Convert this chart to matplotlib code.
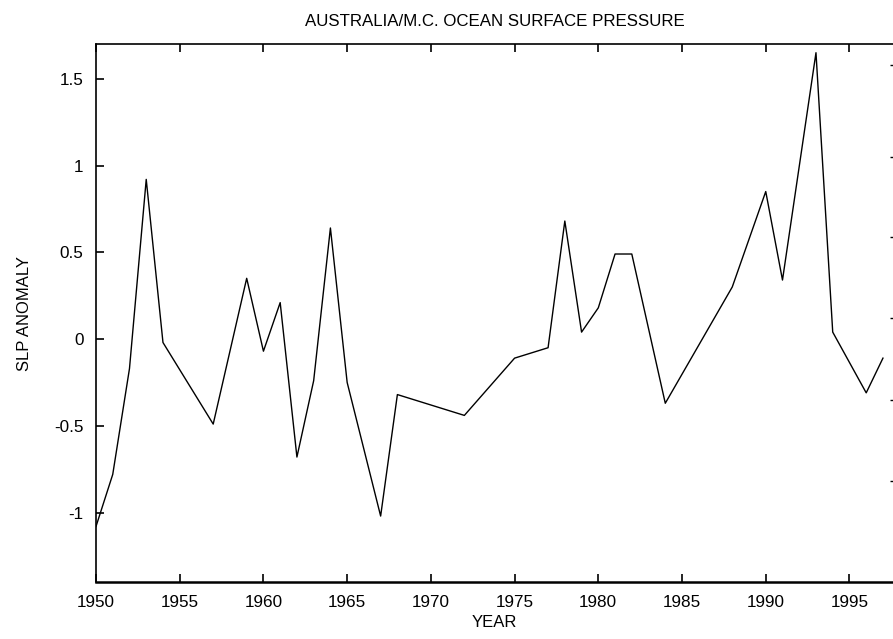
import matplotlib
matplotlib.use("Agg")
import matplotlib.pyplot as plt

plt.rcParams["font.family"] = ["Liberation Sans", "DejaVu Sans"]

# year / SLP anomaly vertices
years = [1950, 1951, 1952, 1953, 1954, 1957, 1959, 1960, 1961, 1962,
         1963, 1964, 1965, 1967, 1968, 1972, 1975, 1977, 1978, 1979,
         1980, 1981, 1982, 1984, 1988, 1990, 1991, 1993, 1994, 1996, 1997]
slp = [-1.08, -0.78, -0.17, 0.92, -0.02, -0.49, 0.35, -0.07, 0.21, -0.68,
       -0.24, 0.64, -0.25, -1.02, -0.32, -0.44, -0.11, -0.05, 0.68, 0.04,
       0.18, 0.49, 0.49, -0.37, 0.30, 0.85, 0.34, 1.65, 0.04, -0.31, -0.11]

xticks = [1950, 1955, 1960, 1965, 1970, 1975, 1980, 1985, 1990, 1995]
yticks = [-1, -0.5, 0, 0.5, 1, 1.5]
ylabels = ["-1", "-0.5", "0", "0.5", "1", "1.5"]
right_ticks = [-0.82, -0.35, 0.12, 0.59, 1.05, 1.58]

fig = plt.figure(figsize=(8.93, 6.39), dpi=100)
ax = fig.add_axes([0.1075, 0.0892, 0.8925, 0.8419])

ax.plot(years, slp, color="black", linewidth=1.0)

ax.set_xlim(1950, 1997.6)
ax.set_ylim(-1.40, 1.70)
ax.set_xticks(xticks)
ax.set_xticklabels([str(x) for x in xticks])
ax.set_yticks(yticks)
ax.set_yticklabels(ylabels)
ax.tick_params(axis="both", direction="in", length=6, width=1.2,
               labelsize=12.3, pad=9)
ax.tick_params(axis="x", top=True)
ax.spines["right"].set_visible(False)
for side in ("left", "top"):
    ax.spines[side].set_linewidth(1.2)
ax.spines["bottom"].set_linewidth(1.8)

# faint tick marks along the (cropped) right edge
axr = ax.twinx()
axr.set_ylim(-1.40, 1.70)
axr.set_yticks(right_ticks)
axr.set_yticklabels([])
axr.tick_params(axis="y", direction="in", length=2, width=1.0)
for s in axr.spines.values():
    s.set_visible(False)

ax.set_title("AUSTRALIA/M.C. OCEAN SURFACE PRESSURE", fontsize=12.2, pad=13)
ax.set_xlabel("YEAR", fontsize=12, labelpad=4)
ax.set_ylabel("SLP ANOMALY", fontsize=12, labelpad=16)

fig.savefig("out.png", dpi=100)
